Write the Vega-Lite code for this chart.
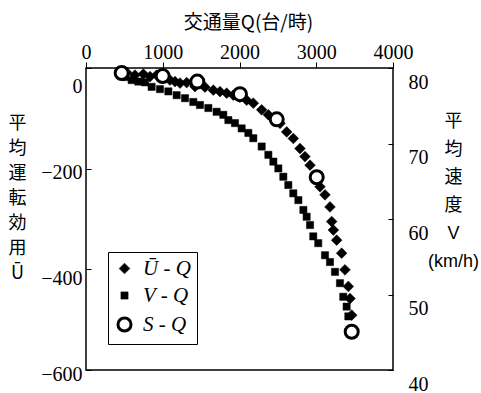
{
  "$schema": "https://vega.github.io/schema/vega-lite/v6.json",
  "width": 307,
  "height": 302,
  "autosize": "none",
  "padding": {"left": 86, "top": 68, "right": 88, "bottom": 23},
  "background": "white",
  "config": {
    "view": {"stroke": "black", "strokeWidth": 1.5},
    "axis": {
      "grid": false,
      "domain": false,
      "labelFont": "Liberation Serif",
      "labelFontSize": 20,
      "labelColor": "black",
      "tickColor": "black",
      "titleColor": "black",
      "titleFont": "Noto Sans CJK JP",
      "titleFontWeight": "normal"
    }
  },
  "data": {
    "values": [
      {"series": "V - Q", "Q": 508, "V": 78.8},
      {"series": "V - Q", "Q": 595, "V": 78.4},
      {"series": "V - Q", "Q": 682, "V": 78.2},
      {"series": "V - Q", "Q": 769, "V": 78.1},
      {"series": "V - Q", "Q": 855, "V": 77.5},
      {"series": "V - Q", "Q": 964, "V": 77.2},
      {"series": "V - Q", "Q": 1073, "V": 76.9},
      {"series": "V - Q", "Q": 1181, "V": 76.4},
      {"series": "V - Q", "Q": 1290, "V": 76.0},
      {"series": "V - Q", "Q": 1398, "V": 75.5},
      {"series": "V - Q", "Q": 1485, "V": 75.1},
      {"series": "V - Q", "Q": 1594, "V": 74.7},
      {"series": "V - Q", "Q": 1702, "V": 74.2},
      {"series": "V - Q", "Q": 1789, "V": 73.8},
      {"series": "V - Q", "Q": 1855, "V": 73.1},
      {"series": "V - Q", "Q": 1941, "V": 72.7},
      {"series": "V - Q", "Q": 2028, "V": 72.0},
      {"series": "V - Q", "Q": 2115, "V": 71.4},
      {"series": "V - Q", "Q": 2180, "V": 70.7},
      {"series": "V - Q", "Q": 2289, "V": 69.6},
      {"series": "V - Q", "Q": 2376, "V": 68.5},
      {"series": "V - Q", "Q": 2441, "V": 67.6},
      {"series": "V - Q", "Q": 2506, "V": 66.7},
      {"series": "V - Q", "Q": 2571, "V": 65.6},
      {"series": "V - Q", "Q": 2636, "V": 64.5},
      {"series": "V - Q", "Q": 2701, "V": 63.4},
      {"series": "V - Q", "Q": 2767, "V": 62.5},
      {"series": "V - Q", "Q": 2832, "V": 61.2},
      {"series": "V - Q", "Q": 2875, "V": 60.3},
      {"series": "V - Q", "Q": 2919, "V": 59.2},
      {"series": "V - Q", "Q": 2961, "V": 57.7},
      {"series": "V - Q", "Q": 3026, "V": 56.8},
      {"series": "V - Q", "Q": 3114, "V": 55.2},
      {"series": "V - Q", "Q": 3179, "V": 54.3},
      {"series": "V - Q", "Q": 3244, "V": 53.0},
      {"series": "V - Q", "Q": 3309, "V": 51.5},
      {"series": "V - Q", "Q": 3352, "V": 49.7},
      {"series": "V - Q", "Q": 3396, "V": 48.4},
      {"series": "V - Q", "Q": 3418, "V": 47.1},
      {"series": "Ū - Q", "Q": 530, "U": -9},
      {"series": "Ū - Q", "Q": 638, "U": -14},
      {"series": "Ū - Q", "Q": 747, "U": -12},
      {"series": "Ū - Q", "Q": 834, "U": -17},
      {"series": "Ū - Q", "Q": 921, "U": -14},
      {"series": "Ū - Q", "Q": 1000, "U": -20},
      {"series": "Ū - Q", "Q": 1094, "U": -24},
      {"series": "Ū - Q", "Q": 1160, "U": -27},
      {"series": "Ū - Q", "Q": 1225, "U": -30},
      {"series": "Ū - Q", "Q": 1312, "U": -29},
      {"series": "Ū - Q", "Q": 1420, "U": -37},
      {"series": "Ū - Q", "Q": 1550, "U": -38},
      {"series": "Ū - Q", "Q": 1659, "U": -44},
      {"series": "Ū - Q", "Q": 1746, "U": -47},
      {"series": "Ū - Q", "Q": 1833, "U": -50},
      {"series": "Ū - Q", "Q": 1919, "U": -54},
      {"series": "Ū - Q", "Q": 2006, "U": -58},
      {"series": "Ū - Q", "Q": 2093, "U": -64},
      {"series": "Ū - Q", "Q": 2180, "U": -70},
      {"series": "Ū - Q", "Q": 2289, "U": -83},
      {"series": "Ū - Q", "Q": 2376, "U": -93},
      {"series": "Ū - Q", "Q": 2450, "U": -100},
      {"series": "Ū - Q", "Q": 2528, "U": -110},
      {"series": "Ū - Q", "Q": 2615, "U": -127},
      {"series": "Ū - Q", "Q": 2701, "U": -140},
      {"series": "Ū - Q", "Q": 2788, "U": -160},
      {"series": "Ū - Q", "Q": 2853, "U": -176},
      {"series": "Ū - Q", "Q": 2919, "U": -193},
      {"series": "Ū - Q", "Q": 3006, "U": -213},
      {"series": "Ū - Q", "Q": 3049, "U": -236},
      {"series": "Ū - Q", "Q": 3114, "U": -252},
      {"series": "Ū - Q", "Q": 3179, "U": -276},
      {"series": "Ū - Q", "Q": 3201, "U": -305},
      {"series": "Ū - Q", "Q": 3223, "U": -322},
      {"series": "Ū - Q", "Q": 3266, "U": -342},
      {"series": "Ū - Q", "Q": 3331, "U": -368},
      {"series": "Ū - Q", "Q": 3374, "U": -401},
      {"series": "Ū - Q", "Q": 3418, "U": -434},
      {"series": "Ū - Q", "Q": 3440, "U": -458},
      {"series": "Ū - Q", "Q": 3462, "U": -491},
      {"series": "S - Q", "Q": 465, "U": -10},
      {"series": "S - Q", "Q": 999, "U": -16},
      {"series": "S - Q", "Q": 1450, "U": -27},
      {"series": "S - Q", "Q": 2006, "U": -52},
      {"series": "S - Q", "Q": 2485, "U": -102},
      {"series": "S - Q", "Q": 3006, "U": -217},
      {"series": "S - Q", "Q": 3462, "U": -524}
    ]
  },
  "encoding": {
    "x": {
      "field": "Q",
      "type": "quantitative",
      "scale": {"domain": [0, 4000], "nice": false, "zero": false},
      "axis": {
        "orient": "top",
        "values": [0, 1000, 2000, 3000, 4000],
        "format": "d",
        "title": "交通量Q(台/時)",
        "titleFontSize": 19,
        "titlePadding": 10,
        "titleX": 162,
        "titleAlign": "center",
        "tickSize": 6,
        "labelPadding": 0,
        "labelFlush": false
      }
    },
    "shape": {
      "field": "series",
      "type": "nominal",
      "scale": {"domain": ["Ū - Q", "V - Q", "S - Q"], "range": ["diamond", "square", "circle"]},
      "legend": {
        "orient": "none",
        "legendX": 22,
        "legendY": 184,
        "title": null,
        "strokeColor": "black",
        "padding": 6,
        "rowPadding": 5,
        "labelFont": "Liberation Serif",
        "labelFontStyle": "italic",
        "labelFontSize": 21,
        "labelColor": "black",
        "labelOffset": 8,
        "symbolStrokeColor": "black",
        "fillColor": "white"
      }
    },
    "fill": {
      "field": "series",
      "type": "nominal",
      "scale": {"domain": ["Ū - Q", "V - Q", "S - Q"], "range": ["black", "black", "white"]}
    },
    "size": {
      "field": "series",
      "type": "nominal",
      "scale": {"type": "ordinal", "domain": ["Ū - Q", "V - Q", "S - Q"], "range": [115, 52, 170]}
    },
    "strokeWidth": {
      "field": "series",
      "type": "nominal",
      "scale": {"type": "ordinal", "domain": ["Ū - Q", "V - Q", "S - Q"], "range": [0.5, 0.5, 3]}
    }
  },
  "layer": [
    {
      "transform": [{"filter": "datum.series == 'V - Q'"}],
      "mark": {"type": "point", "filled": false, "stroke": "black", "opacity": 1},
      "encoding": {
        "y": {
          "field": "V",
          "type": "quantitative",
          "scale": {"domain": [40, 80], "nice": false, "zero": false},
          "axis": {
            "orient": "right",
            "values": [40, 50, 60, 70, 80],
            "tickSize": -5,
            "labelPadding": 20,
            "labelOffset": 14,
            "title": ["平", "均", "速", "度", "V", "(km/h)"],
            "titleFont": "Liberation Sans, Noto Sans CJK JP",
            "titleAngle": 0,
            "titleFontSize": 18,
            "titleLineHeight": 28,
            "titleAlign": "center",
            "titleBaseline": "top",
            "titleX": 60,
            "titleY": 44
          }
        }
      }
    },
    {
      "transform": [{"filter": "datum.series != 'V - Q'"}],
      "mark": {"type": "point", "filled": false, "stroke": "black", "opacity": 1},
      "encoding": {
        "y": {
          "field": "U",
          "type": "quantitative",
          "scale": {"domain": [-600, 0], "nice": false, "zero": false},
          "axis": {
            "orient": "left",
            "values": [-600, -400, -200, 0],
            "tickSize": -5,
            "labelPadding": 9,
            "labelOffset": {"expr": "datum.value == 0 ? 18 : datum.value == -400 ? 9 : 4"},
            "title": ["平", "均", "運", "転", "効", "用", "Ū"],
            "titleAngle": 0,
            "titleFontSize": 18,
            "titleLineHeight": 25,
            "titleAlign": "center",
            "titleBaseline": "top",
            "titleX": -69,
            "titleY": 46
          }
        }
      }
    }
  ],
  "resolve": {"scale": {"y": "independent"}}
}
